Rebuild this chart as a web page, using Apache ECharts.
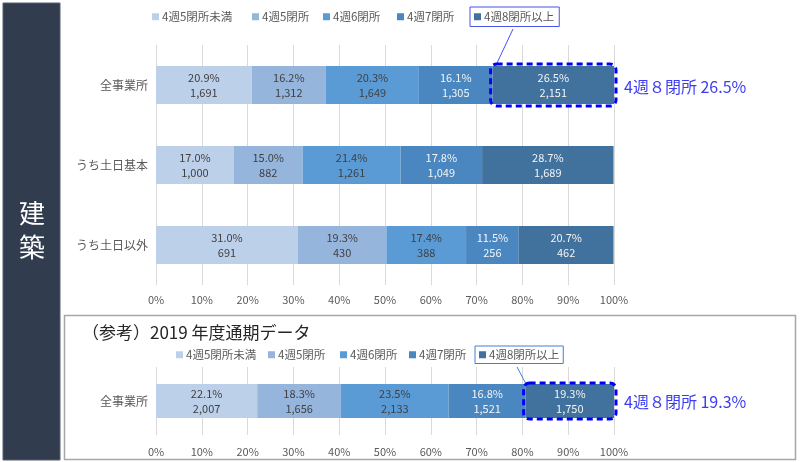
<!DOCTYPE html>
<html><head><meta charset="utf-8">
<script src="https://cdn.jsdelivr.net/npm/echarts@6/dist/echarts.min.js"></script>
<style>html,body{margin:0;padding:0;background:#fff}#c{width:800px;height:462px}</style>
</head><body><div id="c"></div>
<script>
// ---- data ----
const seriesNames = ['4週5閉所未満', '4週5閉所', '4週6閉所', '4週7閉所', '4週8閉所以上'];
const categories = ['全事業所', 'うち土日基本', 'うち土日以外'];
const pct5Less = [20.9, 17.0, 31.0];
const pct5 = [16.2, 15.0, 19.3];
const pct6 = [20.3, 21.4, 17.4];
const pct7 = [16.1, 17.8, 11.5];
const pct8 = [26.5, 28.7, 20.7];
const cnt5Less = [1691, 1000, 691];
const cnt5 = [1312, 882, 430];
const cnt6 = [1649, 1261, 388];
const cnt7 = [1305, 1049, 256];
const cnt8 = [2151, 1689, 462];
const refCategories = ['全事業所'];
const refPct5Less = [22.1];
const refPct5 = [18.3];
const refPct6 = [23.5];
const refPct7 = [16.8];
const refPct8 = [19.3];
const refCnt5Less = [2007];
const refCnt5 = [1656];
const refCnt6 = [2133];
const refCnt7 = [1521];
const refCnt8 = [1750];
const sideTitle = '建\n築';
const refTitle = '（参考）2019 年度通期データ';
const calloutTop = '4週８閉所 ' + pct8[0] + '%';
const calloutRef = '4週８閉所 ' + refPct8[0] + '%';

// ---- styles ----
const colors = ['#bdd0ea', '#95b5dd', '#5b9bd5', '#4a86bf', '#41729e'];
const labelColors = ['#404040', '#404040', '#404040', '#f4f4f4', '#f4f4f4'];
const FONT = '"Noto Sans CJK JP", "Noto Sans", sans-serif';
const topLegendLeft = [152, 252, 323, 397, 470];
const refLegendLeft = [176, 268, 340, 409, 475];

const topPct = [pct5Less, pct5, pct6, pct7, pct8];
const topCnt = [cnt5Less, cnt5, cnt6, cnt7, cnt8];
const refPct = [refPct5Less, refPct5, refPct6, refPct7, refPct8];
const refCnt = [refCnt5Less, refCnt5, refCnt6, refCnt7, refCnt8];

function fmtCount(n) { return n.toLocaleString('en-US'); }

const chart = echarts.init(document.getElementById('c'), null, { renderer: 'canvas' });

function makeSeries(pctArr, cntArr, idx, stack, barWidth) {
  return seriesNames.map((name, i) => ({
    name: name,
    type: 'bar',
    stack: stack,
    xAxisIndex: idx,
    yAxisIndex: idx,
    barWidth: barWidth,
    itemStyle: { color: colors[i] },
    label: {
      show: true,
      position: 'inside',
      color: labelColors[i],
      fontFamily: FONT,
      fontSize: 11,
      lineHeight: 15,
      formatter: p => pctArr[i][p.dataIndex].toFixed(1) + '%\n' + fmtCount(cntArr[i][p.dataIndex])
    },
    emphasis: { disabled: true },
    data: pctArr[i]
  }));
}

const xAxisCommon = {
  type: 'value', min: 0, max: 100, interval: 10,
  axisLine: { show: false }, axisTick: { show: false },
  splitLine: { show: true, lineStyle: { color: '#d9d9d9', width: 1 } },
  axisLabel: { formatter: '{value}%', color: '#595959', fontSize: 11, fontFamily: FONT }
};
const yAxisCommon = {
  type: 'category', inverse: true,
  axisLine: { show: false }, axisTick: { show: false },
  axisLabel: { color: '#595959', fontSize: 12, fontFamily: FONT, margin: 8 }
};
const legendText = { color: '#595959', fontSize: 11.5, fontFamily: FONT, padding: [0, 0, 0, -2] };

function makeLegends(lefts, top, boxColor, boxPad) {
  return seriesNames.map((name, i) => {
    const l = { data: [name], left: lefts[i], top: top, itemWidth: 7, itemHeight: 7, icon: 'rect',
      textStyle: legendText, selectedMode: false, padding: 0 };
    if (i === 4) {
      l.borderColor = boxColor; l.borderWidth = 1; l.padding = boxPad; l.top = top - boxPad[0];
    }
    return l;
  });
}

chart.setOption({
  animation: false,
  grid: [
    { left: 156, right: 186, top: 45, height: 240 },
    { left: 156, right: 186, top: 367, height: 68 }
  ],
  xAxis: [
    Object.assign({}, xAxisCommon, { gridIndex: 0, axisLabel: Object.assign({}, xAxisCommon.axisLabel, { margin: 9 }) }),
    Object.assign({}, xAxisCommon, { gridIndex: 1, axisLabel: Object.assign({}, xAxisCommon.axisLabel, { margin: 11 }) })
  ],
  yAxis: [
    Object.assign({}, yAxisCommon, { gridIndex: 0, data: categories }),
    Object.assign({}, yAxisCommon, { gridIndex: 1, data: refCategories })
  ],
  legend: makeLegends(topLegendLeft, 11, '#4455ee', [4, 5, 4, 4]).concat(makeLegends(refLegendLeft, 349, '#3b82cf', [3, 4, 3, 4])),
  series: makeSeries(topPct, topCnt, 0, 'top', 38).concat(makeSeries(refPct, refCnt, 1, 'ref', 34))
});

// highlight boxes around the 4週8閉所以上 segment, positioned through the axes
function segmentRect(axisIdx, pctList, catName, catIndex, halfH) {
  let start = 0;
  for (let i = 0; i < 4; i++) start += pctList[i][catIndex];
  const end = start + pctList[4][catIndex];
  const p0 = chart.convertToPixel({ xAxisIndex: axisIdx, yAxisIndex: axisIdx }, [start, catName]);
  const p1 = chart.convertToPixel({ xAxisIndex: axisIdx, yAxisIndex: axisIdx }, [Math.min(end, 100), catName]);
  return { x: p0[0] - 2, y: p0[1] - halfH, width: p1[0] - p0[0] + 4, height: halfH * 2, cy: p0[1], right: p1[0] };
}
const r1 = segmentRect(0, topPct, categories[0], 0, 21);
const r2 = segmentRect(1, refPct, refCategories[0], 0, 18);

chart.setOption({
  graphic: [
    { type: 'rect', z: -10, silent: true, shape: { x: 3, y: 3, width: 57, height: 457 },
      style: { fill: '#323c4f', stroke: '#55606f', lineWidth: 1 } },
    { type: 'text', z: 10, silent: true, x: 32, y: 230,
      style: { text: sideTitle, fill: '#ffffff', font: '26px ' + FONT, align: 'center', verticalAlign: 'middle', lineHeight: 34 } },
    { type: 'rect', z: -10, silent: true, shape: { x: 64.5, y: 315.5, width: 731, height: 144 },
      style: { fill: 'none', stroke: '#a6a6a6', lineWidth: 1.5 } },
    { type: 'text', z: 10, silent: true, x: 82, y: 333,
      style: { text: refTitle, fill: '#262626', font: '17px ' + FONT, verticalAlign: 'middle' } },
    // top callout
    { type: 'line', z: 10, silent: true, shape: { x1: 513, y1: 29, x2: r1.x + 5, y2: r1.y + 2 }, style: { stroke: '#4455ee', lineWidth: 1 } },
    { type: 'rect', z: 20, silent: true, shape: { x: r1.x, y: r1.y, width: r1.width, height: r1.height, r: 6 },
      style: { fill: 'none', stroke: '#0000ff', lineWidth: 3, lineDash: [6, 4] } },
    { type: 'text', z: 20, silent: true, x: r1.right + 10, y: r1.cy + 2,
      style: { text: calloutTop, fill: '#3c3cf0', font: '16px ' + FONT, verticalAlign: 'middle' } },
    // ref callout
    { type: 'line', z: 10, silent: true, shape: { x1: 517, y1: 367, x2: r2.x + 3, y2: r2.y + 2 }, style: { stroke: '#3b82cf', lineWidth: 1 } },
    { type: 'rect', z: 20, silent: true, shape: { x: r2.x, y: r2.y, width: r2.width, height: r2.height, r: 6 },
      style: { fill: 'none', stroke: '#0000ff', lineWidth: 3, lineDash: [6, 4] } },
    { type: 'text', z: 20, silent: true, x: r2.right + 10, y: r2.cy + 1,
      style: { text: calloutRef, fill: '#3c3cf0', font: '16px ' + FONT, verticalAlign: 'middle' } }
  ]
});
</script>
</body></html>
